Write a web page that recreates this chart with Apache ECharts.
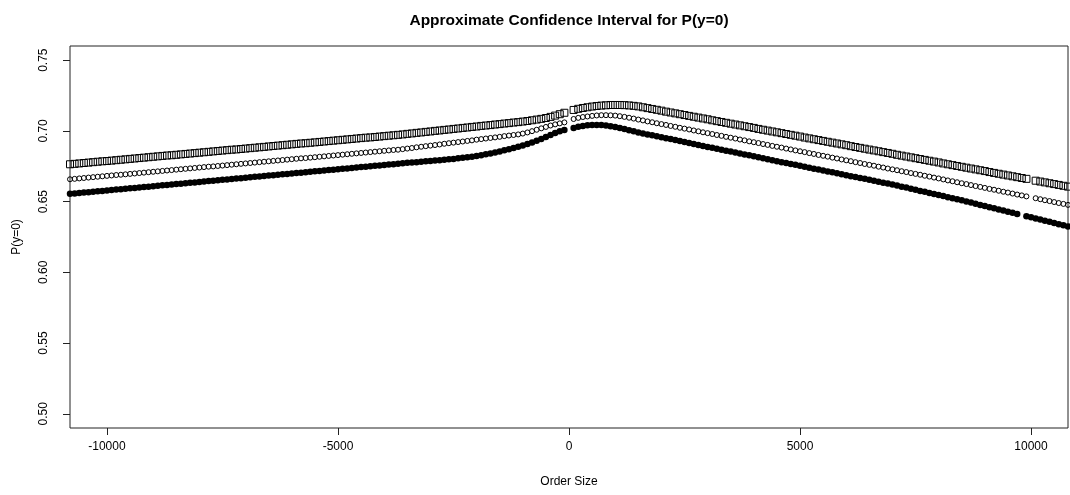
<!DOCTYPE html>
<html>
<head>
<meta charset="utf-8">
<script src="https://cdn.jsdelivr.net/npm/echarts@6/dist/echarts.min.js"></script>
<style>
html,body{margin:0;padding:0;background:#fff;}
#chart{width:1070px;height:495px;}
</style>
</head>
<body>
<div id="chart"></div>
<script>
// Order sizes (x values)
const orderSize = [
-10800,-10700,-10600,-10500,-10400,-10300,-10200,-10100,-10000,-9900,
-9800,-9700,-9600,-9500,-9400,-9300,-9200,-9100,-9000,-8900,
-8800,-8700,-8600,-8500,-8400,-8300,-8200,-8100,-8000,-7900,
-7800,-7700,-7600,-7500,-7400,-7300,-7200,-7100,-7000,-6900,
-6800,-6700,-6600,-6500,-6400,-6300,-6200,-6100,-6000,-5900,
-5800,-5700,-5600,-5500,-5400,-5300,-5200,-5100,-5000,-4900,
-4800,-4700,-4600,-4500,-4400,-4300,-4200,-4100,-4000,-3900,
-3800,-3700,-3600,-3500,-3400,-3300,-3200,-3100,-3000,-2900,
-2800,-2700,-2600,-2500,-2400,-2300,-2200,-2100,-2000,-1900,
-1800,-1700,-1600,-1500,-1400,-1300,-1200,-1100,-1000,-900,
-800,-700,-600,-500,-400,-300,-200,-100,0,100,
200,300,400,500,600,700,800,900,1000,1100,
1200,1300,1400,1500,1600,1700,1800,1900,2000,2100,
2200,2300,2400,2500,2600,2700,2800,2900,3000,3100,
3200,3300,3400,3500,3600,3700,3800,3900,4000,4100,
4200,4300,4400,4500,4600,4700,4800,4900,5000,5100,
5200,5300,5400,5500,5600,5700,5800,5900,6000,6100,
6200,6300,6400,6500,6600,6700,6800,6900,7000,7100,
7200,7300,7400,7500,7600,7700,7800,7900,8000,8100,
8200,8300,8400,8500,8600,8700,8800,8900,9000,9100,
9200,9300,9400,9500,9600,9700,9800,9900,10000,10100,
10200,10300,10400,10500,10600,10700,10800
];

// Upper bound (open squares)
const upper = [
.6764,.6767,.6770,.6773,.6776,.6779,.6782,.6785,.6787,.6790,
.6793,.6796,.6799,.6802,.6805,.6808,.6811,.6814,.6817,.6820,
.6823,.6826,.6828,.6831,.6834,.6837,.6840,.6843,.6846,.6849,
.6852,.6855,.6858,.6861,.6864,.6867,.6869,.6872,.6875,.6878,
.6881,.6884,.6887,.6890,.6893,.6896,.6899,.6902,.6905,.6908,
.6911,.6913,.6916,.6919,.6922,.6925,.6928,.6931,.6934,.6937,
.6940,.6943,.6946,.6949,.6952,.6954,.6957,.6960,.6963,.6966,
.6969,.6972,.6975,.6979,.6982,.6986,.6989,.6993,.6996,.7000,
.7003,.7007,.7010,.7014,.7017,.7021,.7024,.7028,.7031,.7035,
.7038,.7041,.7045,.7048,.7052,.7055,.7059,.7062,.7066,.7070,
.7075,.7080,.7085,.7091,.7099,.7108,.7118,.7128,null,.7148,
.7156,.7162,.7167,.7172,.7176,.7179,.7181,.7183,.7183,.7183,
.7182,.7180,.7177,.7173,.7167,.7161,.7155,.7149,.7143,.7136,
.7130,.7124,.7118,.7112,.7106,.7100,.7094,.7088,.7082,.7075,
.7069,.7063,.7057,.7051,.7045,.7039,.7033,.7027,.7021,.7014,
.7008,.7002,.6996,.6990,.6984,.6978,.6972,.6966,.6960,.6953,
.6947,.6941,.6935,.6929,.6923,.6917,.6911,.6905,.6899,.6892,
.6886,.6880,.6874,.6868,.6862,.6856,.6850,.6844,.6838,.6831,
.6825,.6819,.6813,.6807,.6801,.6795,.6789,.6783,.6777,.6770,
.6764,.6758,.6752,.6746,.6740,.6734,.6728,.6722,.6716,.6709,
.6703,.6697,.6691,.6685,.6679,.6673,.6667,.6661,null,.6648,
.6642,.6636,.6630,.6624,.6618,.6612,.6606
];

// Point estimate (open circles)
const estimate = [
.6658,.6661,.6664,.6667,.6670,.6673,.6676,.6679,.6682,.6685,
.6688,.6690,.6693,.6696,.6699,.6702,.6705,.6708,.6711,.6714,
.6717,.6720,.6723,.6726,.6729,.6732,.6735,.6738,.6741,.6744,
.6747,.6749,.6752,.6755,.6758,.6761,.6764,.6767,.6770,.6773,
.6776,.6779,.6782,.6785,.6788,.6791,.6794,.6797,.6800,.6803,
.6806,.6808,.6811,.6814,.6817,.6820,.6823,.6826,.6829,.6832,
.6835,.6838,.6841,.6844,.6847,.6850,.6853,.6856,.6859,.6862,
.6865,.6867,.6871,.6875,.6879,.6884,.6888,.6892,.6896,.6900,
.6904,.6909,.6913,.6917,.6921,.6925,.6929,.6933,.6938,.6942,
.6946,.6950,.6954,.6958,.6963,.6967,.6971,.6975,.6981,.6989,
.6998,.7008,.7018,.7028,.7038,.7046,.7053,.7060,null,.7084,
.7092,.7098,.7102,.7106,.7109,.7111,.7111,.7110,.7108,.7104,
.7099,.7093,.7087,.7080,.7074,.7067,.7061,.7054,.7048,.7042,
.7035,.7029,.7022,.7016,.7010,.7003,.6997,.6990,.6984,.6978,
.6971,.6965,.6958,.6952,.6946,.6939,.6933,.6926,.6920,.6914,
.6907,.6901,.6894,.6888,.6882,.6875,.6869,.6862,.6856,.6850,
.6843,.6837,.6830,.6824,.6818,.6811,.6805,.6798,.6792,.6786,
.6779,.6773,.6766,.6760,.6754,.6747,.6741,.6734,.6728,.6722,
.6715,.6709,.6702,.6696,.6690,.6683,.6677,.6670,.6664,.6657,
.6650,.6644,.6637,.6630,.6624,.6617,.6610,.6604,.6597,.6590,
.6584,.6577,.6570,.6564,.6557,.6550,.6544,.6537,null,.6524,
.6517,.6510,.6504,.6497,.6490,.6484,.6477
];

// Lower bound (filled circles)
const lower = [
.6555,.6558,.6561,.6564,.6567,.6570,.6573,.6576,.6579,.6582,
.6585,.6588,.6591,.6594,.6597,.6600,.6603,.6606,.6609,.6612,
.6615,.6618,.6621,.6624,.6627,.6630,.6633,.6636,.6639,.6642,
.6645,.6648,.6651,.6654,.6657,.6660,.6663,.6666,.6669,.6672,
.6675,.6678,.6681,.6684,.6687,.6690,.6693,.6696,.6699,.6702,
.6705,.6708,.6711,.6714,.6717,.6720,.6723,.6726,.6729,.6732,
.6735,.6738,.6741,.6744,.6747,.6750,.6753,.6756,.6759,.6762,
.6765,.6768,.6771,.6774,.6776,.6779,.6782,.6785,.6787,.6790,
.6793,.6796,.6799,.6802,.6806,.6810,.6814,.6818,.6823,.6828,
.6834,.6840,.6847,.6855,.6863,.6871,.6879,.6888,.6897,.6907,
.6918,.6930,.6943,.6957,.6971,.6985,.6997,.7007,null,.7021,
.7029,.7035,.7039,.7041,.7042,.7041,.7038,.7033,.7027,.7020,
.7013,.7005,.6997,.6989,.6982,.6975,.6969,.6962,.6955,.6948,
.6942,.6935,.6928,.6921,.6915,.6908,.6901,.6894,.6887,.6881,
.6874,.6867,.6860,.6854,.6847,.6840,.6833,.6827,.6820,.6813,
.6806,.6800,.6793,.6786,.6779,.6773,.6766,.6760,.6753,.6746,
.6740,.6733,.6727,.6720,.6713,.6707,.6700,.6694,.6687,.6680,
.6674,.6667,.6661,.6654,.6647,.6641,.6634,.6628,.6621,.6614,
.6606,.6599,.6591,.6584,.6576,.6569,.6561,.6554,.6546,.6539,
.6531,.6524,.6516,.6509,.6501,.6493,.6485,.6477,.6469,.6461,
.6453,.6445,.6437,.6429,.6421,.6413,null,.6397,.6389,.6381,
.6373,.6365,.6357,.6349,.6341,.6333,.6325
];

const xTicks = [-10000, -5000, 0, 5000, 10000];
const yTicks = [0.50, 0.55, 0.60, 0.65, 0.70, 0.75];

const titleText = 'Approximate Confidence Interval for P(y=0)';
const xName = 'Order Size';
const yName = 'P(y=0)';

function pairs(vals) {
  const out = [];
  for (let i = 0; i < orderSize.length; i++) {
    if (vals[i] !== null && vals[i] !== undefined) out.push([orderSize[i], vals[i]]);
  }
  return out;
}

const FONT = '"Liberation Sans", Arial, sans-serif';
const chart = echarts.init(document.getElementById('chart'), null, {renderer: 'canvas'});
chart.setOption({
  animation: false,
  backgroundColor: '#ffffff',
  title: {
    text: titleText,
    left: 564, top: 8, textAlign: 'center',
    textStyle: {fontFamily: FONT, fontSize: 15.5, fontWeight: 'bold', color: '#000'}
  },
  grid: {
    left: 70, right: 2, top: 46, bottom: 67,
    show: true, borderColor: '#222', borderWidth: 1, backgroundColor: 'transparent'
  },
  xAxis: {
    type: 'value', min: -10800, max: 10800,
    name: xName, nameLocation: 'middle', nameGap: 48,
    nameTextStyle: {fontFamily: FONT, fontSize: 12, color: '#000'},
    axisLine: {show: false, onZero: false},
    splitLine: {show: false},
    axisTick: {show: true, length: 7, customValues: xTicks, lineStyle: {color: '#222'}},
    axisLabel: {customValues: xTicks, margin: 13, fontFamily: FONT, fontSize: 12, color: '#000',
      formatter: v => String(v)}
  },
  yAxis: {
    type: 'value', min: 0.49, max: 0.76,
    name: yName, nameLocation: 'middle', nameGap: 47,
    nameTextStyle: {fontFamily: FONT, fontSize: 12, color: '#000'},
    axisLine: {show: false, onZero: false},
    splitLine: {show: false},
    axisTick: {show: true, length: 7, customValues: yTicks, lineStyle: {color: '#222'}},
    axisLabel: {customValues: yTicks, rotate: 90, margin: 20, fontFamily: FONT, fontSize: 12, color: '#000',
      formatter: v => v.toFixed(2)}
  },
  series: [
    {
      type: 'scatter', data: pairs(upper), symbol: 'rect', symbolSize: 7,
      itemStyle: {color: 'rgba(0,0,0,0)', borderColor: '#000', borderWidth: 1, opacity: 1},
      emphasis: {disabled: true}, clip: true
    },
    {
      type: 'scatter', data: pairs(estimate), symbol: 'circle', symbolSize: 5,
      itemStyle: {color: 'rgba(0,0,0,0)', borderColor: '#000', borderWidth: 1, opacity: 1},
      emphasis: {disabled: true}, clip: true
    },
    {
      type: 'scatter', data: pairs(lower), symbol: 'circle', symbolSize: 6.5,
      itemStyle: {color: '#000', opacity: 1},
      emphasis: {disabled: true}, clip: true
    }
  ]
});
</script>
</body>
</html>
